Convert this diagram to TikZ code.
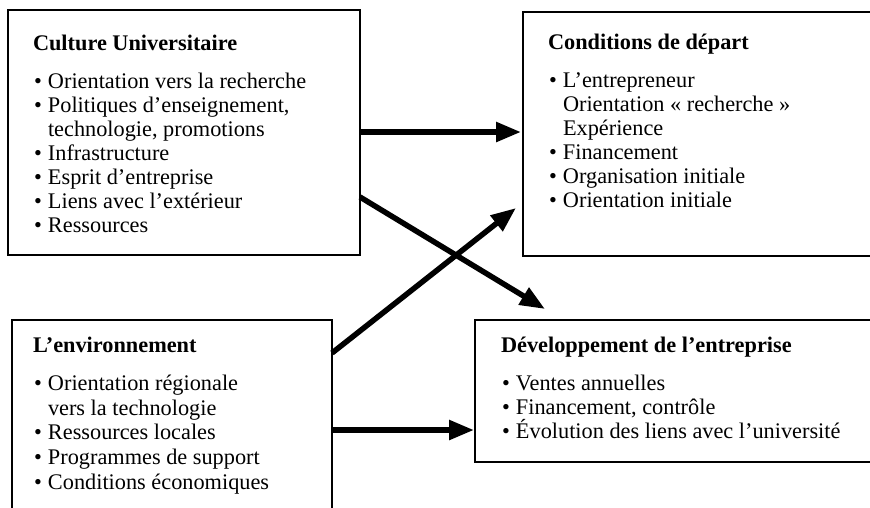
\documentclass[tikz,border=0pt]{standalone}
\usepackage{fontspec}
\setmainfont{Liberation Serif}
\usetikzlibrary{arrows.meta,calc}
\newcommand\itm{\makebox[15pt][l]{\hspace{1pt}•}}
\newcommand\ind{\hspace*{15pt}}
\newcommand\st{\rule{0pt}{17pt}}
\begin{document}
\begin{tikzpicture}[x=1pt,y=-1pt,
  box/.style={draw,line width=1.5pt,inner sep=0pt,outer sep=0pt,anchor=north west},
  txt/.style={inner sep=0pt,outer sep=0pt,anchor=north west,align=left,
              font=\fontsize{22.3}{24}\selectfont},
  arr/.style={line width=5.5pt,-{Triangle[length=25pt,width=19pt]}}]
\useasboundingbox (0,0) rectangle (870,507);
\clip (0,0) rectangle (870,507);
% boxes
\node[box,minimum width=352pt,minimum height=245pt] (cu) at (8,10) {};
\node[box,minimum width=377pt,minimum height=244pt] (co) at (523,12) {};
\node[box,minimum width=320pt,minimum height=220pt] (en) at (12,320) {};
\node[box,minimum width=425pt,minimum height=142pt] (de) at (475,320) {};
% texts
\node[txt] (cut) at ($(cu.north west)+(25,23)$) {\st\textbf{Culture Universitaire}\\[14pt]
\itm Orientation vers la recherche\\
\itm Politiques d’enseignement,\\
\ind technologie, promotions\\
\itm Infrastructure\\
\itm Esprit d’entreprise\\
\itm Liens avec l’extérieur\\
\itm Ressources};
\node[txt] (cot) at ($(co.north west)+(25,20)$) {\st\textbf{Conditions de départ}\\[14pt]
\itm L’entrepreneur\\
\ind Orientation « recherche »\\
\ind Expérience\\
\itm Financement\\
\itm Organisation initiale\\
\itm Orientation initiale};
\node[txt,font=\fontsize{22.3}{24.6}\selectfont] (ent) at ($(en.north west)+(21,15)$) {\st\textbf{L’environnement}\\[14pt]
\itm Orientation régionale\\
\ind vers la technologie\\
\itm Ressources locales\\
\itm Programmes de support\\
\itm Conditions économiques};
\node[txt] (det) at ($(de.north west)+(26,15)$) {\st\textbf{Développement de l’entreprise}\\[14pt]
\itm Ventes annuelles\\
\itm Financement, contrôle\\
\itm Évolution des liens avec l’université};
% connectors
\coordinate (a1s) at ($(cu.north east)+(0,122)$);
\coordinate (a1e) at ($(co.north west)+(-2,120)$);
\coordinate (a2s) at ($(cu.north east)+(0,187)$);
\coordinate (a2e) at ($(de.north west)+(70,-11)$);
\coordinate (a3s) at ($(en.north east)+(0,33)$);
\coordinate (a3e) at ($(co.north west)+(-7,196)$);
\coordinate (a4s) at ($(en.north east)+(0,110)$);
\coordinate (a4e) at ($(de.north west)+(-1,110)$);
\draw[arr] (a1s) -- (a1e);
\draw[arr] (a2s) -- (a2e);
\draw[arr] (a3s) -- (a3e);
\draw[arr] (a4s) -- (a4e);
\end{tikzpicture}
\end{document}
